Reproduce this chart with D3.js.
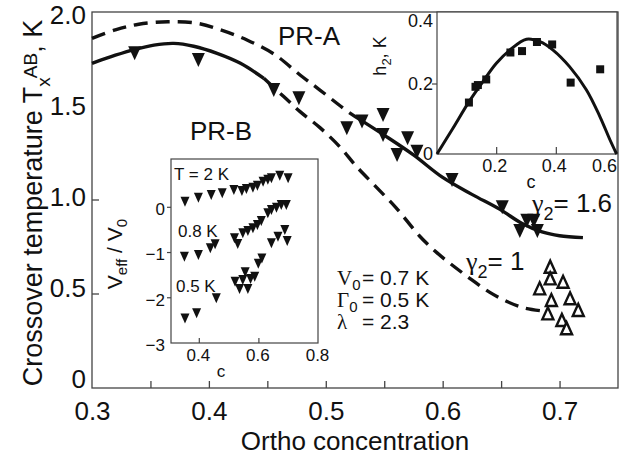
<!DOCTYPE html>
<html><head><meta charset="utf-8">
<script src="https://cdn.jsdelivr.net/npm/d3@7"></script>
<style>
body{margin:0;background:#fff}
text{font-family:"Liberation Sans",Arial,Helvetica,sans-serif;fill:#111}
</style>
</head><body>
<svg id="c" width="629" height="458"></svg>
<script>
// ---------- main chart data ----------
const mainXTicks = [0.3,0.35,0.4,0.45,0.5,0.55,0.6,0.65,0.7];
const mainXLabelVals = [0.3,0.4,0.5,0.6,0.7];
const mainYTicks = [0,0.5,1,1.5,2];
const mainYTickMarks = [0.5,1];
const mainYLabels = ["0","0.5","1.0","1.5","2.0"];

// curve gamma2 = 1.6 (dashed then solid)
const curveA_c = [0.30,0.32,0.34,0.365,0.39,0.41,0.433,0.456,0.478,0.495,0.52,0.53,0.55,0.575,0.60,0.625,0.649,0.668,0.685,0.70,0.72];
const curveA_T = [1.86,1.905,1.935,1.948,1.94,1.905,1.85,1.775,1.665,1.585,1.465,1.425,1.345,1.24,1.12,1.03,0.95,0.875,0.83,0.81,0.80];
const curveA_split = 0.53;
// curve gamma2 = 1 (solid then dashed)
const curveB_c = [0.30,0.32,0.336,0.353,0.37,0.387,0.407,0.427,0.447,0.464,0.478,0.495,0.512,0.526,0.543,0.56,0.58,0.595,0.61,0.625,0.64,0.655,0.67,0.685];
const curveB_T = [1.727,1.77,1.80,1.824,1.833,1.818,1.78,1.727,1.647,1.55,1.47,1.385,1.283,1.18,1.07,0.96,0.81,0.72,0.645,0.575,0.51,0.46,0.425,0.41];
const curveB_split = 0.447;

// filled down triangles
const filled_c = [0.3365,0.391,0.4555,0.477,0.518,0.531,0.549,0.549,0.561,0.570,0.578,0.608,0.651,0.666,0.672,0.678,0.681];
const filled_T = [1.78,1.745,1.585,1.541,1.381,1.417,1.452,1.346,1.239,1.328,1.257,1.106,0.962,0.835,0.89,0.89,0.835];
// open up triangles
const open_c = [0.692,0.692,0.703,0.683,0.693,0.709,0.690,0.716,0.702,0.706];
const open_T = [0.645,0.583,0.565,0.53,0.468,0.477,0.397,0.415,0.362,0.318];

// ---------- inset 1 (h2 vs c) ----------
const in1XTicks = [0.2,0.4,0.6];
const in1XLabels = ["0.2","0.4","0.6"];
const in1YTicks = [0,0.2,0.4];
const in1YLabels = ["0","0.2","0.4"];
const in1Sq_c = [0.107,0.129,0.137,0.165,0.246,0.285,0.335,0.386,0.448,0.547];
const in1Sq_h = [0.147,0.192,0.197,0.213,0.29,0.294,0.32,0.313,0.204,0.242];
const in1Curve_c = [0,0.053,0.107,0.154,0.199,0.244,0.30,0.345,0.389,0.445,0.501,0.546,0.58,0.602];
const in1Curve_h = [0,0.073,0.149,0.207,0.259,0.297,0.328,0.321,0.297,0.249,0.183,0.107,0.040,0];

// ---------- inset 2 (Veff/V0 vs c) ----------
const in2XTicks = [0.4,0.6,0.8];
const in2XLabels = ["0.4","0.6","0.8"];
const in2YTicks = [0,-1,-2,-3];
const in2YLabels = ["0","\u22121","\u22122","\u22123"];
const v2K_c = [0.352,0.397,0.440,0.477,0.516,0.543,0.558,0.580,0.595,0.614,0.630,0.642,0.670,0.698];
const v2K_v = [0.124,0.213,0.272,0.309,0.383,0.361,0.405,0.434,0.478,0.567,0.611,0.641,0.700,0.641];
const v08_c = [0.350,0.397,0.437,0.453,0.518,0.529,0.546,0.563,0.580,0.595,0.608,0.630,0.642,0.659,0.675,0.692];
const v08_v = [-1.093,-1.055,-0.907,-0.819,-0.686,-0.812,-0.575,-0.524,-0.465,-0.392,-0.303,-0.133,-0.060,-0.008,0.051,0.051];
const v05_c = [0.352,0.391,0.457,0.520,0.535,0.546,0.554,0.563,0.572,0.586,0.598,0.610,0.642,0.664,0.687,0.695];
const v05_v = [-2.456,-2.345,-2.013,-1.646,-1.808,-1.608,-1.438,-1.808,-1.586,-1.535,-1.25,-1.13,-0.797,-0.650,-0.502,-0.746];

// ---------- drawing ----------
const svg = d3.select("#c");
const FONT = '"Liberation Sans",Arial,Helvetica,sans-serif';
const SERIF = '"Liberation Serif","DejaVu Serif",serif';
const INK = "#111", FRAME = "#444";

function tri(cx, cy, w, h, down){
  const t = cy - h/2, b = cy + h/2;
  return down ? `M${cx-w/2},${t}L${cx+w/2},${t}L${cx},${b}Z`
              : `M${cx-w/2},${b}L${cx+w/2},${b}L${cx},${t}Z`;
}
const zip = (a,b) => a.map((v,i)=>[v,b[i]]);

// main scales
const x = d3.scaleLinear([0.3,0.75],[92,618]);
const y = d3.scaleLinear([0,2],[388,12]);
const yLab = d3.scaleLinear([0,2],[379,15]); // label placement (as printed)

// main x axis
const gx = svg.append("g").attr("transform","translate(0,388)")
  .call(d3.axisBottom(x).tickValues(mainXTicks).tickSizeInner(-7).tickSizeOuter(0).tickPadding(14)
    .tickFormat(d => mainXLabelVals.some(v=>Math.abs(v-d)<1e-9) ? d.toFixed(1) : ""));
gx.select(".domain").remove();
gx.selectAll(".tick").filter(d=>Math.abs(d-0.3)<1e-9).select("line").remove();
gx.attr("font-family",FONT).attr("font-size",26);
gx.selectAll("line").attr("stroke",FRAME).attr("stroke-width",1.3);
gx.selectAll("text").attr("fill",INK);

// main y axis: tick marks + labels
svg.append("g").selectAll("line").data(mainYTickMarks).join("line")
  .attr("x1",92).attr("x2",99).attr("y1",d=>y(d)).attr("y2",d=>y(d))
  .attr("stroke",FRAME).attr("stroke-width",1.3);
svg.append("g").selectAll("text").data(mainYTicks).join("text")
  .attr("x",86).attr("y",d=>yLab(d)).attr("dy","0.36em").attr("text-anchor","end")
  .attr("font-size",26).text((d,i)=>mainYLabels[i]);

svg.append("rect").attr("x",x(0.3)).attr("y",y(2)).attr("width",x(0.75)-x(0.3)).attr("height",y(0)-y(2))
  .attr("fill","none").attr("stroke",FRAME).attr("stroke-width",1.3);

// axis titles
svg.append("text").attr("x",(x(0.3)+x(0.75))/2).attr("y",450).attr("text-anchor","middle")
  .attr("font-size",26).text("Ortho concentration");
const yt = svg.append("text").attr("transform",`translate(42,203) rotate(-90)`)
  .attr("text-anchor","middle").attr("font-size",27);
yt.append("tspan").text("Crossover temperature  T");
yt.append("tspan").attr("font-size",19).attr("dy",8).text("x");
yt.append("tspan").attr("font-size",19).attr("dy",-13).attr("dx",-1).text("AB");
yt.append("tspan").attr("dy",5).text(", K");

// curves
const line = d3.line().x(d=>x(d[0])).y(d=>y(d[1])).curve(d3.curveCatmullRom);
function drawCurve(cs, ts, split, dashedFirst){
  const pts = zip(cs, ts);
  const first = pts.filter(p=>p[0] <= split + 1e-9);
  const second = pts.filter(p=>p[0] >= split - 1e-9);
  [[first, dashedFirst],[second, !dashedFirst]].forEach(([p,dashed])=>{
    svg.append("path").attr("d",line(p)).attr("fill","none").attr("stroke",INK)
      .attr("stroke-width",3.4).attr("stroke-dasharray",dashed?"14,8":null);
  });
}
drawCurve(curveA_c, curveA_T, curveA_split, true);
drawCurve(curveB_c, curveB_T, curveB_split, false);

// markers
svg.append("g").selectAll("path").data(zip(filled_c, filled_T)).join("path")
  .attr("d",d=>tri(x(d[0]),y(d[1]),13,14,true)).attr("fill",INK);
svg.append("g").selectAll("path").data(zip(open_c, open_T)).join("path")
  .attr("d",d=>tri(x(d[0]),y(d[1]),11,12,false)).attr("fill","#fff").attr("stroke",INK).attr("stroke-width",2.4);

// annotations
svg.append("text").attr("x",278).attr("y",45).attr("font-size",26).text("PR-A");
svg.append("text").attr("x",190).attr("y",140).attr("font-size",26).text("PR-B");

function gammaLabel(x0, base, val){
  const t = svg.append("text").attr("x",x0).attr("y",base).attr("font-size",26);
  t.append("tspan").attr("font-family",SERIF).text("\u03b3");
  t.append("tspan").attr("font-size",18).attr("dy",8).text("2");
  t.append("tspan").attr("dy",-8).text("= " + val);
}
gammaLabel(532, 212, "1.6");
gammaLabel(466, 270, "1");

function paramLabel(sym, sub, val, base){
  const t = svg.append("text").attr("y",base).attr("font-size",21);
  t.append("tspan").attr("x",337).attr("font-family",SERIF).text(sym);
  if (sub) t.append("tspan").attr("font-size",15).attr("dy",5).text(sub);
  t.append("tspan").attr("x",362).attr("y",base).text("= " + val);
}
paramLabel("V","0","0.7 K",285);
paramLabel("\u0393","0","0.5 K",307);
paramLabel("\u03bb","","2.3",329);

// ---------- inset 1 ----------
const x1 = d3.scaleLinear([0,0.6],[437,616]);
const y1 = d3.scaleLinear([0,0.4],[154,14]);
svg.append("rect").attr("x",437).attr("y",12).attr("width",180).attr("height",142)
  .attr("fill","#fff").attr("stroke",FRAME).attr("stroke-width",1.2);
svg.append("g").selectAll("line").data(in1XTicks.slice(0,2)).join("line")
  .attr("x1",d=>x1(d)).attr("x2",d=>x1(d)).attr("y1",154).attr("y2",147).attr("stroke",FRAME).attr("stroke-width",1.2);
svg.append("line").attr("x1",432).attr("x2",437).attr("y1",y1(0.2)).attr("y2",y1(0.2)).attr("stroke",FRAME).attr("stroke-width",1.2);
svg.append("g").selectAll("text").data(in1XTicks).join("text")
  .attr("x",(d,i)=> i===in1XTicks.length-1 ? 617 : x1(d)-2)
  .attr("text-anchor",(d,i)=> i===in1XTicks.length-1 ? "end" : "middle")
  .attr("y",172).attr("font-size",18).text((d,i)=>in1XLabels[i]);
svg.append("g").selectAll("text").data(in1YTicks).join("text")
  .attr("x",433).attr("text-anchor","end").attr("y",d=>Math.max(y1(d),21)).attr("dy","0.35em")
  .attr("font-size",18).text((d,i)=>in1YLabels[i]);
svg.append("text").attr("x",531).attr("y",188).attr("text-anchor","middle").attr("font-size",18).text("c");
const ht = svg.append("text").attr("transform","translate(386,56) rotate(-90)").attr("text-anchor","middle").attr("font-size",18);
ht.append("tspan").text("h");
ht.append("tspan").attr("font-size",13).attr("dy",5).text("2");
ht.append("tspan").attr("dy",-5).text(", K");
const line1 = d3.line().x(d=>x1(d[0])).y(d=>y1(d[1])).curve(d3.curveCatmullRom);
svg.append("path").attr("d",line1(zip(in1Curve_c,in1Curve_h))).attr("fill","none").attr("stroke",INK).attr("stroke-width",3);
svg.append("g").selectAll("rect").data(zip(in1Sq_c,in1Sq_h)).join("rect")
  .attr("x",d=>x1(d[0])-4).attr("y",d=>y1(d[1])-4).attr("width",8).attr("height",8).attr("fill",INK);

// ---------- inset 2 ----------
const x2 = d3.scaleLinear([0.3,0.8],[169.5,318.5]);
const y2 = d3.scaleLinear([-3,0],[343,207.3]);
svg.append("rect").attr("x",171).attr("y",159).attr("width",147).attr("height",184)
  .attr("fill","#fff").attr("stroke",FRAME).attr("stroke-width",1.2);
svg.append("g").selectAll("line").data(in2XTicks.slice(0,2)).join("line")
  .attr("x1",d=>x2(d)).attr("x2",d=>x2(d)).attr("y1",343).attr("y2",338).attr("stroke",FRAME).attr("stroke-width",1.2);
svg.append("g").selectAll("line").data(in2YTicks.slice(0,3)).join("line")
  .attr("x1",167).attr("x2",171).attr("y1",d=>y2(d)).attr("y2",d=>y2(d)).attr("stroke",FRAME).attr("stroke-width",1.2);
svg.append("g").selectAll("text").data(in2XTicks).join("text")
  .attr("x",d=>x2(d)-1).attr("text-anchor","middle").attr("y",361).attr("font-size",17).text((d,i)=>in2XLabels[i]);
svg.append("g").selectAll("text").data(in2YTicks).join("text")
  .attr("x",165).attr("text-anchor","end").attr("y",d=>y2(d)+2).attr("dy","0.35em")
  .attr("font-size",17).text((d,i)=>in2YLabels[i]);
svg.append("text").attr("x",221).attr("y",377).attr("text-anchor","middle").attr("font-size",17).text("c");
const vt = svg.append("text").attr("transform","translate(122,254) rotate(-90)").attr("text-anchor","middle").attr("font-size",21);
vt.append("tspan").text("V");
vt.append("tspan").attr("font-size",15).attr("dy",5).text("eff");
vt.append("tspan").attr("dy",-5).text(" / V");
vt.append("tspan").attr("font-size",15).attr("dy",5).text("0");
svg.append("text").attr("x",174).attr("y",180).attr("font-size",17).text("T = 2 K");
svg.append("text").attr("x",178).attr("y",237).attr("font-size",17).text("0.8 K");
svg.append("text").attr("x",176).attr("y",292).attr("font-size",17).text("0.5 K");
[[v2K_c,v2K_v],[v08_c,v08_v],[v05_c,v05_v]].forEach(([cs,vs])=>{
  svg.append("g").selectAll("path").data(zip(cs,vs)).join("path")
    .attr("d",d=>tri(x2(d[0]),y2(d[1]),9,10,true)).attr("fill",INK);
});
</script>
</body></html>
